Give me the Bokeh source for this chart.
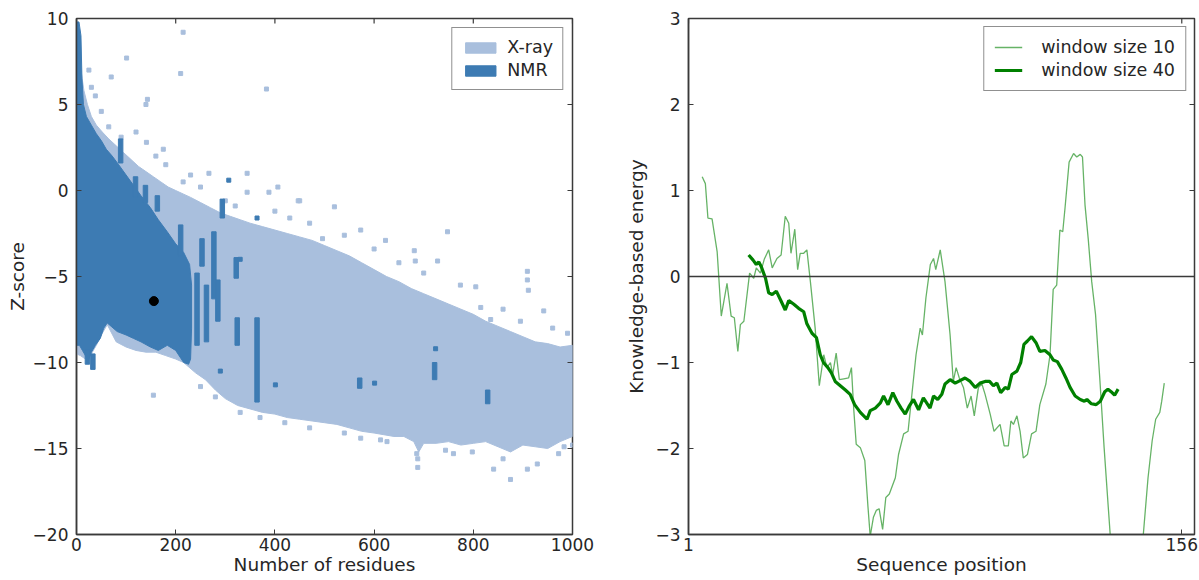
import math
from bokeh.plotting import figure
from bokeh.layouts import row
from bokeh.models import Range1d, FixedTicker, Legend, LegendItem, Span
from bokeh.embed import file_html
from bokeh.resources import INLINE

# ---------------- left panel data (Z-score vs number of residues) ----------------
xray_top_n = [0, 5, 10, 15, 22, 30, 40, 52, 65, 80, 95, 110, 125, 140, 155, 170, 185, 200, 215, 230,
              250, 270, 290, 310, 330, 350, 375, 400, 425, 450, 475, 500, 525, 550, 575, 600, 625, 650,
              675, 700, 725, 750, 775, 800, 825, 850, 875, 900, 925, 950, 975, 1000]
xray_top_z = [9.0, 8.0, 6.8, 5.8, 5.0, 4.3, 3.8, 3.4, 3.0, 2.6, 2.2, 1.8, 1.4, 1.1, 0.8, 0.5, 0.2, 0.0, -0.2, -0.4,
              -0.7, -1.0, -1.3, -1.5, -1.7, -1.9, -2.1, -2.3, -2.5, -2.7, -2.9, -3.2, -3.5, -3.8, -4.2, -4.6, -5.0, -5.3,
              -5.7, -6.0, -6.3, -6.6, -6.9, -7.2, -7.6, -7.9, -8.2, -8.5, -8.8, -8.9, -9.1, -9.0]
xray_bot_n = [1000, 975, 950, 925, 900, 875, 850, 825, 800, 775, 750, 725, 700, 690, 680, 660, 640, 620, 600,
              575, 550, 525, 500, 475, 450, 425, 400, 375, 350, 325, 300, 280, 260, 240, 216, 200, 180, 160,
              140, 120, 100, 80, 62, 50, 40, 28, 18, 8, 0]
xray_bot_z = [-14.3, -14.6, -15.0, -14.9, -14.8, -15.2, -14.9, -14.6, -14.7, -14.8, -14.6, -14.7, -14.7, -15.2, -14.6, -14.3, -14.3, -14.2, -14.1,
              -14.0, -13.8, -13.6, -13.5, -13.4, -13.3, -13.2, -13.0, -12.9, -12.7, -12.5, -12.1, -11.6, -11.0, -10.6, -10.0, -9.8, -9.6, -9.4,
              -9.4, -9.3, -9.1, -8.8, -7.8, -8.4, -9.0, -9.6, -9.8, -9.6, -9.5]

nmr_top_n = [0, 5, 9, 11, 14, 20, 30, 40, 50, 60, 72, 85, 100, 115, 130, 149, 165, 183, 200, 216, 228, 232]
nmr_top_z = [9.8, 9.8, 9.0, 6.5, 5.0, 4.3, 3.8, 3.3, 2.9, 2.4, 2.0, 1.5, 0.9, 0.3, -0.3, -1.0, -1.7, -2.4, -3.1, -3.6, -4.3, -5.5]
nmr_bot_n = [232, 230, 226, 216, 200, 183, 165, 149, 130, 115, 100, 82, 70, 62, 55, 48, 38, 30, 24, 18, 12, 6, 0]
nmr_bot_z = [-8.0, -9.8, -10.1, -10.0, -9.3, -9.0, -9.3, -9.1, -8.8, -8.6, -8.4, -8.2, -7.9, -7.7, -8.0, -8.6, -9.0, -9.4, -9.9, -9.6, -9.3, -9.0, -9.0]

nmr_bar_n = [22, 33, 89, 119, 139, 163, 210, 243, 253, 262, 277, 285, 294, 322, 324, 364, 571, 722, 829]
nmr_bar_top = [-9.3, -9.5, 3.0, 0.8, 0.3, -0.3, -2.0, -4.8, -2.8, -5.5, -2.4, -5.2, -0.5, -3.9, -7.4, -7.4, -10.9, -10.0, -11.6]
nmr_bar_bot = [-10.1, -10.4, 1.6, -0.4, -0.7, -1.2, -3.8, -9.0, -4.4, -8.8, -6.3, -7.6, -1.6, -5.1, -9.0, -12.3, -11.5, -11.0, -12.4]

nmr_dot_n = [307, 364, 290, 401, 601, 724, 330]
nmr_dot_z = [0.6, -1.6, -10.5, -11.3, -11.2, -9.2, -4.0]

xray_dot_n = [215, 101, 70, 210, 383, 38, 143, 140, 65, 141, 175, 267, 344, 215, 344, 388, 406, 447, 450, 520,
              573, 748, 623, 496, 909, 909, 911, 681, 683, 805, 728, 774, 815, 835, 895, 942, 860, 960, 990,
              300, 320, 250, 230, 400, 430, 470, 540, 600, 650, 700, 120, 180, 160, 25, 30, 50, 90,
              155, 688, 688, 686, 875, 909, 929, 841, 798, 744, 972, 983, 573, 613, 626, 860, 760, 540,
              470, 420, 370, 330, 280, 250, 1000]
xray_dot_z = [9.2, 7.7, 6.6, 6.8, 5.9, 5.5, 5.3, 5.0, 3.7, 2.8, 2.4, 1.0, 1.0, 0.5, -0.1, -0.1, 0.2, -0.6, -0.6, -0.95,
              -2.3, -2.4, -2.9, -2.8, -4.7, -5.2, -5.8, -3.5, -4.1, -5.6, -4.1, -5.5, -6.8, -7.5, -7.6, -7.0, -6.9, -8.0, -8.3,
              -0.6, -0.9, 0.2, 0.9, -1.2, -1.6, -1.9, -2.6, -3.4, -4.2, -4.8, 3.4, 1.5, 2.0, 7.0, 6.0, 4.6, 3.1,
              -11.9, -15.6, -16.1, -15.3, -16.8, -16.2, -15.9, -16.2, -15.2, -15.1, -15.3, -14.9, -14.4, -14.5, -14.6, -15.6, -15.3, -14.1,
              -13.8, -13.5, -13.2, -12.9, -12.0, -11.4, -14.8]

query_n = [156]
query_z = [-6.43]

z_ticks = [-20, -15, -10, -5, 0, 5, 10]
n_ticks = [0, 200, 400, 600, 800, 1000]

# ---------------- right panel data (energy profile) ----------------
seq_w10 = [5.3, 6.3, 7.1, 8.4, 10.0, 11.3, 13.1, 14.4, 15.4, 16.5, 17.3, 18.4, 20.2, 21.5, 22.3, 23.6, 24.8, 26.2,
           27.3, 28.8, 30.1, 31.4, 32.5, 33.2, 34.4, 35.3, 36.1, 37.2, 38.2, 39.3, 40.8, 42.1, 43.5, 44.5, 45.6,
           46.3, 47.4, 48.4, 49.8, 51.3, 52.2, 52.9, 53.7, 55.0, 56.4, 57.4, 58.1, 59.1, 60.0, 60.9, 62.0, 63.0,
           64.1, 66.0, 67.0, 68.6, 70.0, 71.2, 72.5, 73.8, 74.5, 75.6, 77.0, 78.0, 78.7, 80.1, 81.6, 83.2, 84.2,
           85.1, 86.1, 87.4, 88.6, 89.8, 90.8, 92.1, 93.2, 94.2, 95.8, 97.0, 98.9, 100.2, 101.5, 102.3, 103.1,
           104.2, 105.2, 106.2, 107.5, 108.8, 110.2, 111.4, 113.3, 114.6, 115.6, 116.7, 117.7, 118.6, 119.3,
           120.6, 122.0, 123.0, 124.1, 124.8, 125.6, 126.6, 127.7, 128.9, 130.3, 131.6, 132.9, 133.6, 136.0,
           139.0, 141.5, 143.8, 145.4, 146.7, 147.8, 149.1, 149.7, 150.5]
e_w10 = [1.16, 1.08, 0.68, 0.67, 0.29, -0.46, -0.08, -0.46, -0.48, -0.87, -0.56, -0.52, 0.04, -0.02, 0.10, 0.04, 0.20, 0.31,
         0.10, 0.21, 0.25, 0.70, 0.62, 0.27, 0.55, 0.08, 0.27, 0.27, 0.31, -0.06, -0.60, -1.27, -0.91, -1.06, -1.00,
         -1.14, -0.89, -1.20, -1.19, -1.18, -1.06, -1.53, -1.95, -1.99, -2.14, -2.68, -3.02, -2.80, -2.72, -2.70, -2.94, -2.57,
         -2.53, -2.34, -2.07, -1.83, -1.80, -1.37, -0.91, -0.60, -0.68, -0.25, 0.14, 0.21, 0.08, 0.31, -0.06, -0.68, -1.22,
         -1.06, -1.18, -1.29, -1.53, -1.39, -1.62, -1.29, -1.25, -1.37, -1.60, -1.80, -1.72, -1.97, -1.97, -1.68, -1.72,
         -1.62, -1.80, -2.11, -2.07, -1.83, -1.80, -1.49, -1.25, -0.91, -0.15, -0.10, 0.54, 0.52, 0.79,
         1.33, 1.43, 1.39, 1.42, 1.39, 0.83, 0.44, -0.06, -0.44, -1.22, -1.99, -2.68, -3.05, -3.6,
         -3.9, -3.6, -3.05, -2.34, -1.91, -1.66, -1.58, -1.45, -1.24]

seq_w40 = [19.9, 21.3, 22.3, 23.1, 23.8, 25.2, 26.2, 27.3, 28.6, 29.9, 31.4, 32.5, 34.0, 35.6, 37.2, 38.2, 39.8, 41.2,
           42.4, 43.4, 44.8, 45.9, 47.1, 48.7, 50.3, 51.8, 53.2, 55.0, 57.1, 58.1, 59.7, 61.3, 62.3, 63.7, 65.2, 66.5,
           67.8, 69.1, 70.3, 71.7, 73.3, 74.8, 76.9, 78.0, 79.3, 80.6, 81.6, 83.2, 84.8, 86.3, 87.9, 89.5, 91.1, 92.6,
           94.2, 95.6, 96.8, 97.9, 99.1, 100.5, 101.5, 102.6, 104.2, 105.4, 106.4, 107.5, 108.8, 110.2, 111.4, 113.0,
           114.6, 115.6, 116.9, 118.3, 119.6, 120.9, 122.5, 124.1, 125.4, 126.2, 127.6, 129.1, 130.4, 131.8, 132.8,
           134.1, 134.9, 136.0]
e_w40 = [0.25, 0.19, 0.14, 0.17, 0.12, -0.02, -0.19, -0.21, -0.17, -0.27, -0.39, -0.28, -0.32, -0.37, -0.41, -0.55, -0.66, -0.71,
         -0.91, -1.00, -1.06, -1.12, -1.22, -1.27, -1.32, -1.37, -1.49, -1.58, -1.66, -1.56, -1.53, -1.47, -1.39, -1.49, -1.35, -1.45,
         -1.53, -1.60, -1.51, -1.43, -1.55, -1.41, -1.53, -1.39, -1.43, -1.37, -1.25, -1.20, -1.24, -1.21, -1.18, -1.22, -1.29, -1.24,
         -1.22, -1.22, -1.27, -1.24, -1.35, -1.29, -1.31, -1.14, -1.10, -1.00, -0.79, -0.75, -0.70, -0.77, -0.87, -0.86,
         -0.91, -0.97, -0.99, -1.08, -1.18, -1.29, -1.39, -1.43, -1.45, -1.43, -1.48, -1.49, -1.45, -1.34, -1.31,
         -1.35, -1.38, -1.31]

e_ticks = [-3, -2, -1, 0, 1, 2, 3]
seq_ticks = [1, 156]

# ---------------- styling ----------------
FONT = "DejaVu Sans"
TXT = "#262626"
AX = "#3a3a3a"
XRAY = "#a9bfdd"
NMR = "#3d7bb3"
TICK_FS = "17px"
LABEL_FS = "18.5px"
LEG_FS = "17.5px"


def minus(v):
    return str(v).replace("-", "\u2212")


def style_axes(p, xticks, yticks, xlabel, ylabel, y_label_standoff):
    p.xaxis.ticker = FixedTicker(ticks=xticks)
    p.yaxis.ticker = FixedTicker(ticks=yticks)
    p.xaxis.major_label_overrides = {t: minus(t) for t in xticks}
    p.yaxis.major_label_overrides = {t: minus(t) for t in yticks}
    p.xaxis.axis_label = xlabel
    p.yaxis.axis_label = ylabel
    for ax in p.xaxis + p.yaxis:
        ax.major_tick_in = 5
        ax.major_tick_out = 0
        ax.minor_tick_in = 0
        ax.minor_tick_out = 0
        ax.axis_line_color = AX
        ax.axis_line_width = 1.5
        ax.major_tick_line_color = AX
        ax.major_label_text_font = FONT
        ax.major_label_text_font_size = TICK_FS
        ax.major_label_text_color = TXT
        ax.axis_label_text_font = FONT
        ax.axis_label_text_font_size = LABEL_FS
        ax.axis_label_text_font_style = "normal"
        ax.axis_label_text_color = TXT
    p.xaxis.major_label_standoff = 3
    p.yaxis.major_label_standoff = 8
    p.xaxis.axis_label_standoff = 0
    p.yaxis.axis_label_standoff = y_label_standoff
    # mirrored inward tick marks on the top and right frame edges (clipped dash markers)
    xr, yr = p.x_range, p.y_range
    p.scatter(xticks, [yr.end] * len(xticks), marker="dash", size=10, angle=math.pi / 2,
              line_color=AX, line_width=1.2)
    p.scatter([xr.end] * len(yticks), yticks, marker="dash", size=10,
              line_color=AX, line_width=1.2)
    p.xgrid.visible = False
    p.ygrid.visible = False
    p.outline_line_color = AX
    p.outline_line_width = 1.5
    p.background_fill_color = "white"
    p.border_fill_color = "white"


# ---------------- left figure ----------------
p1 = figure(width=618, height=578, x_range=Range1d(0, 1000), y_range=Range1d(-20, 10),
            output_backend="svg", toolbar_location=None,
            min_border_left=76, min_border_right=46, min_border_top=18, min_border_bottom=41)

r_xray = p1.patch(xray_top_n + xray_bot_n, xray_top_z + xray_bot_z, fill_color=XRAY, line_color=XRAY, line_width=1)
p1.scatter(xray_dot_n, xray_dot_z, marker="square", size=4, color=XRAY)
r_nmr = p1.patch(nmr_top_n + nmr_bot_n, nmr_top_z + nmr_bot_z, fill_color=NMR, line_color=NMR, line_width=1)
p1.vbar(x=nmr_bar_n, top=nmr_bar_top, bottom=nmr_bar_bot, width=9, color=NMR)
p1.scatter(nmr_dot_n, nmr_dot_z, marker="square", size=4, color=NMR)
p1.scatter(query_n, query_z, marker="circle", size=9, color="black")

style_axes(p1, n_ticks, z_ticks, "Number of residues", "Z-score", 2)

leg1 = Legend(items=[LegendItem(label="X-ray", renderers=[r_xray]), LegendItem(label="NMR", renderers=[r_nmr])],
              location="top_right", margin=9, padding=9, spacing=3, glyph_width=38, glyph_height=13,
              label_standoff=8, label_text_font=FONT, label_text_font_size=LEG_FS, label_text_color=TXT,
              border_line_color="#222222", border_line_width=1.2, background_fill_color="white",
              background_fill_alpha=1.0)
p1.add_layout(leg1)

# ---------------- right figure ----------------
p2 = figure(width=580, height=578, x_range=Range1d(1, 160), y_range=Range1d(-3, 3),
            output_backend="svg", toolbar_location=None,
            min_border_left=70, min_border_right=4, min_border_top=16, min_border_bottom=44)

p2.add_layout(Span(location=0, dimension="width", line_color=AX, line_width=1.5))
r10 = p2.line(seq_w10, e_w10, line_color="#008000", line_alpha=0.6, line_width=1.3)
r40 = p2.line(seq_w40, e_w40, line_color="#008000", line_width=3.2)

style_axes(p2, seq_ticks, e_ticks, "Sequence position", "Knowledge-based energy", 5)

leg2 = Legend(items=[LegendItem(label="window size 10", renderers=[r10]),
                     LegendItem(label="window size 40", renderers=[r40])],
              location="top_right", margin=8, padding=10, spacing=3, glyph_width=28, glyph_height=18,
              label_standoff=19, label_text_font=FONT, label_text_font_size=LEG_FS, label_text_color=TXT,
              border_line_color="#222222", border_line_width=1.2, background_fill_color="white",
              background_fill_alpha=1.0)
p2.add_layout(leg2)

layout = row(p1, p2)
open("out.html", "w").write(file_html(layout, INLINE))
